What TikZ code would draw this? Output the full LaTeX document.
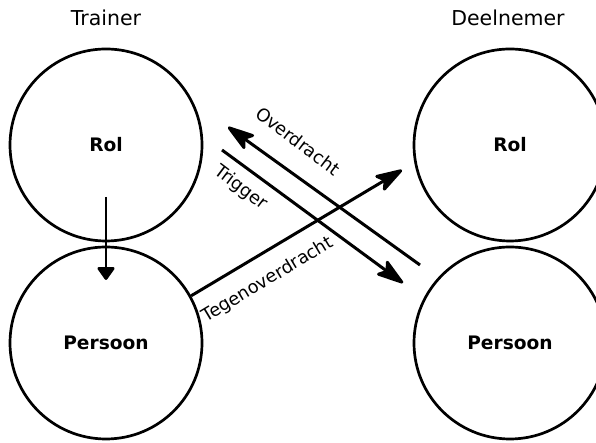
\documentclass[tikz,border=0pt]{standalone}
\usepackage{fontspec}
\setmainfont{DejaVu Sans}
\usetikzlibrary{arrows.meta}
\begin{document}
\begin{tikzpicture}[x=1pt,y=1pt,
  ring/.style={draw, circle, line width=2.7pt, minimum size=192pt, inner sep=0pt,
    font=\fontsize{18.6}{22}\selectfont\bfseries},
  heading/.style={font=\fontsize{20.5}{24}\selectfont},
  flowlabel/.style={font=\fontsize{17.8}{21}\selectfont, inner sep=0pt},
  bigarrow/.style={line width=3pt, -{Stealth[length=32pt, width=20pt, inset=7pt, round]}},
  smallarrow/.style={line width=2.7pt, -{Triangle[length=14pt, width=19pt, round]}}]
  \useasboundingbox (0,0) rectangle (596,443);
  \clip (0,0) rectangle (596,443);

  % column headings
  \node[heading] (trainer) at (106,425) {Trainer};
  \node[heading] (deelnemer) at (508,425) {Deelnemer};

  % the four circles
  \node[ring] (lrol) at (106,298) {Rol};
  \node[ring] (lpers) at (106,100) {Persoon};
  \node[ring] (rrol) at (510,298) {Rol};
  \node[ring] (rpers) at (510,100) {Persoon};

  % free arrow ends
  \coordinate (rolstart) at (106,246);
  \coordinate (rolend) at (106,163);
  \coordinate (overstart) at (420,178);
  \coordinate (overend) at (228,316);
  \coordinate (trigstart) at (222,293);
  \coordinate (trigend) at (403,160);
  \coordinate (tegenend) at (402,273);

  % arrows
  \draw[smallarrow] (rolstart) -- (rolend);
  \draw[bigarrow] (overstart) -- (overend);
  \draw[bigarrow] (trigstart) -- (trigend);
  \draw[bigarrow] (lpers.29) -- (tegenend);

  % arrow labels
  \node[flowlabel, rotate=-37] (overlabel) at (298,302) {Overdracht};
  \node[flowlabel, rotate=-37] (triglabel) at (241,255) {Trigger};
  \node[flowlabel, rotate=31] (tegenlabel) at (268,163) {Tegenoverdracht};
\end{tikzpicture}
\end{document}
